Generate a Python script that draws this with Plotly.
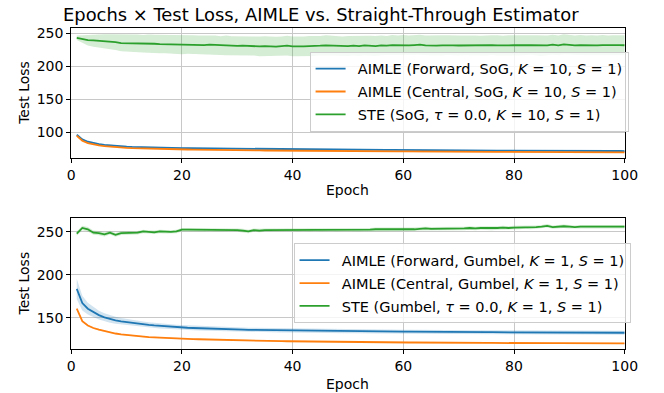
import plotly.graph_objects as go

epochs = list(range(1, 101))

# ---- Top panel (SoG, K=10) ----
top_fwd_mean = [96.5, 89.5, 86.0, 84.0, 82.5, 81.2, 80.3, 79.6, 79.0, 78.5,
                78.1, 77.8, 77.5, 77.3, 77.1, 76.9, 76.7, 76.6, 76.5, 76.4,
                76.2, 76.1, 76.0, 75.9, 75.8, 75.7, 75.6, 75.5, 75.4, 75.3,
                75.2, 75.1, 75.0, 74.9, 74.9, 74.8, 74.7, 74.6, 74.6, 74.5,
                74.4, 74.4, 74.3, 74.2, 74.2, 74.1, 74.0, 74.0, 73.9, 73.9,
                73.8, 73.8, 73.7, 73.7, 73.6, 73.6, 73.5, 73.5, 73.4, 73.4,
                73.3, 73.3, 73.2, 73.2, 73.1, 73.1, 73.0, 73.0, 72.9, 72.9,
                72.8, 72.8, 72.8, 72.7, 72.7, 72.6, 72.6, 72.6, 72.5, 72.5,
                72.5, 72.4, 72.4, 72.4, 72.3, 72.3, 72.3, 72.2, 72.2, 72.2,
                72.1, 72.1, 72.1, 72.0, 72.0, 72.0, 71.9, 71.9, 71.9, 71.8]
top_fwd_std = [1.2, 1.1, 1.0, 1.0, 1.0, 0.9, 0.9, 0.9, 0.9, 0.9,
               0.9, 0.9, 0.9, 0.9, 0.9, 0.9, 0.9, 0.9, 0.9, 0.9,
               0.9, 0.9, 0.9, 0.9, 0.9, 0.9, 0.9, 0.9, 0.9, 0.9,
               0.9, 0.9, 0.9, 0.9, 0.9, 0.9, 0.9, 0.9, 0.9, 0.9,
               0.9, 0.9, 0.9, 0.9, 0.9, 0.9, 0.9, 0.9, 0.9, 0.9,
               0.9, 0.9, 0.9, 0.9, 0.9, 0.9, 0.9, 0.9, 0.9, 0.9,
               0.9, 0.9, 0.9, 0.9, 0.9, 0.9, 0.9, 0.9, 0.9, 0.9,
               0.9, 0.9, 0.9, 0.9, 0.9, 0.9, 0.9, 0.9, 0.9, 0.9,
               0.9, 0.9, 0.9, 0.9, 0.9, 0.9, 0.9, 0.9, 0.9, 0.9,
               0.9, 0.9, 0.9, 0.9, 0.9, 0.9, 0.9, 0.9, 0.9, 0.9]
top_cen_mean = [95.0, 87.5, 84.0, 82.0, 80.5, 79.3, 78.4, 77.7, 77.1, 76.6,
                76.2, 75.9, 75.6, 75.4, 75.2, 75.0, 74.8, 74.7, 74.5, 74.4,
                74.2, 74.1, 73.9, 73.8, 73.7, 73.6, 73.5, 73.4, 73.3, 73.2,
                73.1, 73.0, 72.9, 72.8, 72.7, 72.6, 72.5, 72.5, 72.4, 72.3,
                72.2, 72.2, 72.1, 72.0, 72.0, 71.9, 71.8, 71.8, 71.7, 71.7,
                71.6, 71.6, 71.5, 71.5, 71.4, 71.4, 71.3, 71.3, 71.2, 71.2,
                71.1, 71.1, 71.0, 71.0, 71.0, 70.9, 70.9, 70.8, 70.8, 70.8,
                70.7, 70.7, 70.7, 70.6, 70.6, 70.6, 70.5, 70.5, 70.5, 70.4,
                70.4, 70.4, 70.3, 70.3, 70.3, 70.3, 70.2, 70.2, 70.2, 70.1,
                70.1, 70.1, 70.1, 70.0, 70.0, 70.0, 70.0, 69.9, 69.9, 69.9]
top_cen_std = [0.8] * 100
top_ste_mean = [243.5, 241.5, 240.0, 239.5, 239.0, 238.0, 237.5, 237.0, 235.5, 235.5,
                235.0, 235.0, 234.5, 234.8, 234.5, 234.0, 233.8, 233.0, 233.2, 233.0,
                233.5, 233.0, 232.8, 232.5, 233.0, 232.5, 231.8, 232.0, 231.5, 231.2,
                231.5, 231.0, 230.8, 230.5, 231.0, 230.5, 230.2, 231.0, 231.5, 230.5,
                230.0, 230.5, 231.0, 230.8, 231.5, 232.0, 231.5, 231.0, 230.5, 231.0,
                231.5, 231.0, 232.0, 231.5, 231.0, 232.0, 231.5, 232.5, 232.0, 232.5,
                232.0, 232.5, 233.0, 232.0, 231.5, 231.5, 232.0, 232.5, 232.0, 231.8,
                232.0, 232.3, 232.0, 231.8, 232.0, 232.5, 232.0, 231.5, 232.0, 232.5,
                232.0, 232.2, 232.5, 232.0, 231.5, 232.0, 233.0, 232.0, 233.5, 232.5,
                232.0, 232.5, 232.0, 232.3, 232.0, 232.5, 232.0, 232.3, 232.5, 232.2]
top_ste_std = [3.5, 6.0, 8.0, 9.5, 10.5, 11.0, 11.5, 12.0, 12.5, 13.0,
               13.0, 13.5, 13.2, 13.8, 13.5, 14.0, 13.8, 14.2, 14.0, 14.5,
               14.2, 14.5, 14.0, 14.5, 14.8, 14.5, 14.2, 14.8, 14.5, 14.5,
               14.8, 14.5, 14.2, 14.8, 15.0, 14.5, 14.8, 14.5, 15.0, 14.8,
               15.0, 14.8, 15.2, 15.0, 14.8, 15.2, 15.0, 14.8, 15.0, 15.2,
               15.0, 15.2, 14.8, 15.0, 15.2, 15.0, 14.8, 15.2, 15.0, 15.2,
               15.0, 14.8, 15.2, 15.0, 15.2, 15.0, 15.2, 15.0, 14.8, 15.2,
               15.0, 15.2, 15.0, 14.8, 15.2, 15.0, 15.2, 15.0, 15.2, 15.0,
               15.2, 15.0, 14.8, 15.2, 15.5, 15.0, 15.2, 15.0, 15.5, 15.2,
               15.0, 15.2, 15.0, 15.2, 15.0, 15.2, 15.0, 15.2, 15.0, 15.2]

# ---- Bottom panel (Gumbel, K=1) ----
bot_fwd_mean = [183.5, 167.0, 160.5, 156.5, 153.0, 150.5, 148.5, 147.0, 145.8, 144.8,
                143.8, 143.0, 142.3, 141.6, 141.0, 140.4, 139.9, 139.4, 139.0, 138.6,
                138.3, 138.0, 137.7, 137.4, 137.2, 137.0, 136.8, 136.6, 136.4, 136.2,
                136.1, 135.9, 135.8, 135.7, 135.5, 135.4, 135.3, 135.2, 135.1, 135.0,
                135.0, 134.9, 134.8, 134.7, 134.6, 134.6, 134.5, 134.4, 134.3, 134.3,
                134.2, 134.1, 134.1, 134.0, 134.0, 133.9, 133.9, 133.8, 133.8, 133.7,
                133.7, 133.6, 133.6, 133.5, 133.5, 133.5, 133.4, 133.4, 133.3, 133.3,
                133.3, 133.2, 133.2, 133.2, 133.1, 133.1, 133.1, 133.0, 133.0, 133.0,
                133.0, 132.9, 132.9, 132.9, 132.8, 132.8, 132.8, 132.8, 132.7, 132.7,
                132.7, 132.7, 132.6, 132.6, 132.6, 132.6, 132.5, 132.5, 132.5, 132.5]
bot_fwd_std = [12.0, 8.5, 6.8, 5.8, 5.2, 4.7, 4.3, 4.0, 3.8, 3.6,
               3.4, 3.3, 3.2, 3.1, 3.0, 3.0, 2.9, 2.9, 2.8, 2.8,
               2.8, 2.7, 2.7, 2.7, 2.6, 2.6, 2.6, 2.6, 2.5, 2.5,
               2.5, 2.5, 2.5, 2.5, 2.5, 2.4, 2.4, 2.4, 2.4, 2.4,
               2.4, 2.4, 2.4, 2.4, 2.4, 2.4, 2.4, 2.4, 2.4, 2.4,
               2.4, 2.4, 2.4, 2.4, 2.4, 2.4, 2.4, 2.4, 2.4, 2.4,
               2.4, 2.4, 2.4, 2.4, 2.4, 2.4, 2.4, 2.4, 2.4, 2.4,
               2.4, 2.4, 2.4, 2.4, 2.4, 2.4, 2.4, 2.4, 2.4, 2.4,
               2.4, 2.4, 2.4, 2.4, 2.4, 2.4, 2.4, 2.4, 2.4, 2.4,
               2.4, 2.4, 2.4, 2.4, 2.4, 2.4, 2.4, 2.4, 2.4, 2.4]
bot_cen_mean = [160.5, 146.0, 141.0, 138.0, 136.0, 134.3, 132.8, 131.6, 130.6, 129.8,
                129.1, 128.5, 128.0, 127.5, 127.1, 126.7, 126.4, 126.1, 125.8, 125.5,
                125.3, 125.1, 124.9, 124.7, 124.5, 124.3, 124.1, 124.0, 123.8, 123.7,
                123.5, 123.4, 123.3, 123.1, 123.0, 122.9, 122.8, 122.7, 122.6, 122.5,
                122.4, 122.3, 122.2, 122.2, 122.1, 122.0, 121.9, 121.9, 121.8, 121.7,
                121.7, 121.6, 121.5, 121.5, 121.4, 121.4, 121.3, 121.3, 121.2, 121.2,
                121.1, 121.1, 121.0, 121.0, 121.0, 120.9, 120.9, 120.8, 120.8, 120.8,
                120.7, 120.7, 120.7, 120.6, 120.6, 120.6, 120.5, 120.5, 120.5, 120.5,
                120.4, 120.4, 120.4, 120.4, 120.3, 120.3, 120.3, 120.3, 120.2, 120.2,
                120.2, 120.2, 120.2, 120.1, 120.1, 120.1, 120.1, 120.1, 120.0, 120.0]
bot_cen_std = [1.2, 1.0, 0.9, 0.8, 0.8, 0.8, 0.7, 0.7, 0.7, 0.7,
               0.7, 0.7, 0.7, 0.7, 0.7, 0.7, 0.7, 0.7, 0.7, 0.7,
               0.7, 0.7, 0.7, 0.7, 0.7, 0.7, 0.7, 0.7, 0.7, 0.7,
               0.7, 0.7, 0.7, 0.7, 0.7, 0.7, 0.7, 0.7, 0.7, 0.7,
               0.7, 0.7, 0.7, 0.7, 0.7, 0.7, 0.7, 0.7, 0.7, 0.7,
               0.7, 0.7, 0.7, 0.7, 0.7, 0.7, 0.7, 0.7, 0.7, 0.7,
               0.7, 0.7, 0.7, 0.7, 0.7, 0.7, 0.7, 0.7, 0.7, 0.7,
               0.7, 0.7, 0.7, 0.7, 0.7, 0.7, 0.7, 0.7, 0.7, 0.7,
               0.7, 0.7, 0.7, 0.7, 0.7, 0.7, 0.7, 0.7, 0.7, 0.7,
               0.7, 0.7, 0.7, 0.7, 0.7, 0.7, 0.7, 0.7, 0.7, 0.7]
bot_ste_mean = [248.0, 254.5, 253.0, 249.0, 248.5, 247.0, 249.0, 246.5, 248.5, 248.5,
                249.0, 249.0, 250.5, 250.0, 249.5, 250.5, 250.0, 250.0, 250.5, 252.5,
                252.5, 252.5, 252.0, 252.0, 252.5, 252.0, 252.0, 252.0, 252.5, 252.0,
                251.5, 250.5, 252.0, 251.5, 252.0, 252.0, 252.5, 252.0, 252.5, 252.5,
                252.0, 252.5, 252.0, 252.5, 252.0, 252.0, 252.5, 252.0, 252.5, 252.5,
                252.5, 252.0, 252.5, 252.5, 253.0, 253.0, 252.5, 253.0, 252.5, 253.0,
                253.0, 253.0, 253.5, 254.0, 253.5, 253.5, 254.0, 254.0, 253.5, 254.0,
                254.0, 254.5, 254.0, 254.5, 254.5, 254.0, 254.5, 255.0, 254.5, 255.0,
                255.0, 255.5, 255.0, 255.5, 256.0, 257.0, 255.5, 256.0, 256.5, 256.0,
                255.5, 256.0, 256.0, 255.5, 256.0, 256.0, 256.0, 256.0, 256.0, 256.0]
bot_ste_std = [2.5, 2.5, 2.5, 2.5, 2.5, 2.5, 2.2, 2.2, 2.2, 2.0,
               2.0, 2.0, 2.0, 2.0, 2.0, 2.0, 2.0, 2.0, 2.0, 2.0,
               2.0, 2.0, 2.0, 2.0, 2.0, 2.0, 2.0, 2.0, 2.0, 2.0,
               2.0, 2.0, 2.0, 2.0, 2.0, 2.0, 2.0, 2.0, 2.0, 2.0,
               2.0, 2.0, 2.0, 2.0, 2.0, 2.0, 2.0, 2.0, 2.0, 2.0,
               2.0, 2.0, 2.0, 2.0, 2.0, 2.0, 2.0, 2.0, 2.0, 2.0,
               2.0, 2.0, 2.0, 2.0, 2.0, 2.0, 2.0, 2.0, 2.0, 2.0,
               2.0, 2.0, 2.0, 2.0, 2.0, 2.0, 2.0, 2.0, 2.0, 2.0,
               2.0, 2.0, 2.0, 2.0, 2.0, 2.0, 2.0, 2.0, 2.0, 2.0,
               2.0, 2.0, 2.0, 2.0, 2.0, 2.0, 2.0, 2.0, 2.0, 2.0]

top_labels = ["AIMLE (Forward, SoG, <i>K</i> = 10, <i>S</i> = 1)",
              "AIMLE (Central, SoG, <i>K</i> = 10, <i>S</i> = 1)",
              "STE (SoG, <i>τ</i> = 0.0, <i>K</i> = 10, <i>S</i> = 1)"]
bot_labels = ["AIMLE (Forward, Gumbel, <i>K</i> = 1, <i>S</i> = 1)",
              "AIMLE (Central, Gumbel, <i>K</i> = 1, <i>S</i> = 1)",
              "STE (Gumbel, <i>τ</i> = 0.0, <i>K</i> = 1, <i>S</i> = 1)"]

colors = ["#1f77b4", "#ff7f0e", "#2ca02c"]
fills = ["rgba(31,119,180,0.2)", "rgba(255,127,14,0.2)", "rgba(44,160,44,0.2)"]

FONT = "DejaVu Sans, Liberation Sans, sans-serif"
FS = 14
fig = go.Figure()

def add_panel(means, stds, labels, xa, ya, legend, grp):
    for i, (m, s) in enumerate(zip(means, stds)):
        up = [a + b for a, b in zip(m, s)]
        lo = [a - b for a, b in zip(m, s)]
        fig.add_trace(go.Scatter(x=epochs + epochs[::-1], y=up + lo[::-1],
                                 fill="toself", fillcolor=fills[i], line=dict(width=0),
                                 mode="lines", hoverinfo="skip", showlegend=False,
                                 xaxis=xa, yaxis=ya))
    for i, m in enumerate(means):
        fig.add_trace(go.Scatter(x=epochs, y=m, mode="lines", name="\u2002" + labels[i],
                                 line=dict(color=colors[i], width=1.8),
                                 xaxis=xa, yaxis=ya, legend=legend,
                                 legendgroup=f"{grp}{i}"))

add_panel([top_fwd_mean, top_cen_mean, top_ste_mean],
          [top_fwd_std, top_cen_std, top_ste_std], top_labels, "x", "y", "legend", "t")
add_panel([bot_fwd_mean, bot_cen_mean, bot_ste_mean],
          [bot_fwd_std, bot_cen_std, bot_ste_std], bot_labels, "x2", "y2", "legend2", "b")

W, H = 664, 393
xdom = [69 / W, 637 / W]
ydom_top = [1 - 157 / H, 1 - 25.7 / H]
ydom_bot = [1 - 349 / H, 1 - 217.3 / H]

axis_common = dict(showline=True, linecolor="black", linewidth=1, mirror=True,
                   ticks="outside", ticklen=4, tickwidth=1, tickcolor="black",
                   showgrid=True, gridcolor="#c8c8c8", gridwidth=1, zeroline=False,
                   tickfont=dict(family=FONT, size=FS, color="black"))

leg_common = dict(bgcolor="rgba(255,255,255,0.8)", bordercolor="#cccccc", borderwidth=1,
                  font=dict(family=FONT, size=14.5, color="black"),
                  xanchor="right", yanchor="top", traceorder="grouped", tracegroupgap=1)

fig.update_layout(
    width=W, height=H, margin=dict(l=0, r=0, t=0, b=0),
    paper_bgcolor="white", plot_bgcolor="white",
    xaxis=dict(domain=xdom, range=[0, 100], tickvals=[0, 20, 40, 60, 80, 100], anchor="y", **axis_common),
    yaxis=dict(domain=ydom_top, range=[61, 259], tickvals=[100, 150, 200, 250], anchor="x", **axis_common),
    xaxis2=dict(domain=xdom, range=[0, 100], tickvals=[0, 20, 40, 60, 80, 100], anchor="y2", **axis_common),
    yaxis2=dict(domain=ydom_bot, range=[113.3, 265.9], tickvals=[150, 200, 250], anchor="x2", **axis_common),
    legend=dict(x=641 / W, y=1 - 50 / H, **leg_common),
    legend2=dict(x=643 / W, y=1 - 242.5 / H, **leg_common),
    showlegend=True,
    annotations=[
        dict(text="Epochs × Test Loss, AIMLE vs. Straight-Through Estimator", xref="paper", yref="paper",
             x=325 / W, y=1 - 12.5 / H, xanchor="center", yanchor="middle", showarrow=False,
             font=dict(family=FONT, size=17.9, color="black")),
        dict(text="Test Loss", xref="paper", yref="paper", x=20.5 / W, y=1 - 91.3 / H,
             xanchor="center", yanchor="middle", textangle=-90, showarrow=False,
             font=dict(family=FONT, size=FS, color="black")),
        dict(text="Epoch", xref="paper", yref="paper", x=352.3 / W, y=1 - 189 / H,
             xanchor="center", yanchor="middle", showarrow=False,
             font=dict(family=FONT, size=FS, color="black")),
        dict(text="Test Loss", xref="paper", yref="paper", x=20.5 / W, y=1 - 283 / H,
             xanchor="center", yanchor="middle", textangle=-90, showarrow=False,
             font=dict(family=FONT, size=FS, color="black")),
        dict(text="Epoch", xref="paper", yref="paper", x=352.3 / W, y=1 - 384 / H,
             xanchor="center", yanchor="middle", showarrow=False,
             font=dict(family=FONT, size=FS, color="black")),
    ],
)

fig.write_html("out.html")
